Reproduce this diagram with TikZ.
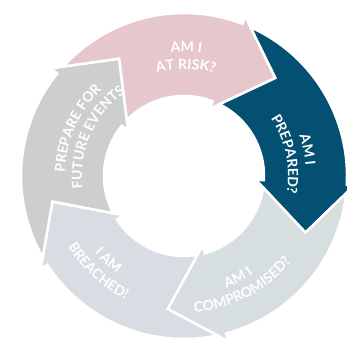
\documentclass[tikz,border=0pt]{standalone}
\usepackage{fontspec}
\setmainfont{Lato}
\usepackage{xcolor}
\usepackage{tikz}
\usetikzlibrary{decorations.text}

\definecolor{riskpink}{HTML}{E6C7CC}
\definecolor{prepblue}{HTML}{035073}
\definecolor{compgray}{HTML}{D7DEE0}
\definecolor{breachblue}{HTML}{D8DDE4}
\definecolor{futuregray}{HTML}{CDCFCF}

\begin{document}
\begin{tikzpicture}[
    x=1pt, y=1pt,
    segment/.style={
        draw=white,
        line width=2.5pt
    },
    % one line of label text set along an arc
    ringtext/.style={
        decorate,
        decoration={
            text along path,
            text align=center,
            text color=white,
            text={|\fontsize{14}{16}\bfseries|#1}
        }
    }
]

\useasboundingbox (-184,-168) rectangle (163,176);

% ==================================================
% Cycle segments (tail notch follows the previous head)
% ==================================================

% Am I at risk?
\fill[segment, fill=riskpink]
    (137.9:163) arc[start angle=137.9, end angle=69, radius=163]
    -- (69:171) -- (47:134) -- (69:72) -- (69:80)
    arc[start angle=69, end angle=135.7, radius=80]
    -- (119:134) -- cycle;

% Am I prepared?
\fill[segment, fill=prepblue]
    (65.9:163) arc[start angle=65.9, end angle=-3, radius=163]
    -- (-3:171) -- (-25:134) -- (-3:72) -- (-3:80)
    arc[start angle=-3, end angle=63.7, radius=80]
    -- (47:134) -- cycle;

% Am I compromised?
\fill[segment, fill=compgray]
    (-6.1:163) arc[start angle=-6.1, end angle=-75, radius=163]
    -- (-75:171) -- (-97:134) -- (-75:72) -- (-75:80)
    arc[start angle=-75, end angle=-8.3, radius=80]
    -- (-25:134) -- cycle;

% I am breached!
\fill[segment, fill=breachblue]
    (-78.1:163) arc[start angle=-78.1, end angle=-147, radius=163]
    -- (-147:171) -- (-169:134) -- (-147:72) -- (-147:80)
    arc[start angle=-147, end angle=-80.3, radius=80]
    -- (-97:134) -- cycle;

% Prepare for future events
\fill[segment, fill=futuregray]
    (209.9:163) arc[start angle=209.9, end angle=141, radius=163]
    -- (141:171) -- (119:134) -- (141:72) -- (141:80)
    arc[start angle=141, end angle=207.7, radius=80]
    -- (191:134) -- cycle;

% ==================================================
% Labels along the ring
% (clockwise arcs: letters face out, anticlockwise: letters face in)
% ==================================================

\path[ringtext={AM I}]
    (149:124) arc[start angle=149, end angle=29, radius=124];
\path[ringtext={AT RISK?}]
    (149:107) arc[start angle=149, end angle=29, radius=107];

\path[ringtext={AM I}]
    (72:122) arc[start angle=72, end angle=-48, radius=122];
\path[ringtext={PREPARED?}]
    (72:104) arc[start angle=72, end angle=-48, radius=104];

\path[ringtext={AM I}]
    (-122:120) arc[start angle=-122, end angle=-2, radius=120];
\path[ringtext={COMPROMISED?}]
    (-122:137) arc[start angle=-122, end angle=-2, radius=137];

\path[ringtext={I AM}]
    (168:118) arc[start angle=168, end angle=288, radius=118];
\path[ringtext={BREACHED!}]
    (168:136) arc[start angle=168, end angle=288, radius=136];

\path[ringtext={PREPARE FOR}]
    (216:119) arc[start angle=216, end angle=96, radius=119];
\path[ringtext={FUTURE EVENTS}]
    (216:102) arc[start angle=216, end angle=96, radius=102];

\end{tikzpicture}
\end{document}
